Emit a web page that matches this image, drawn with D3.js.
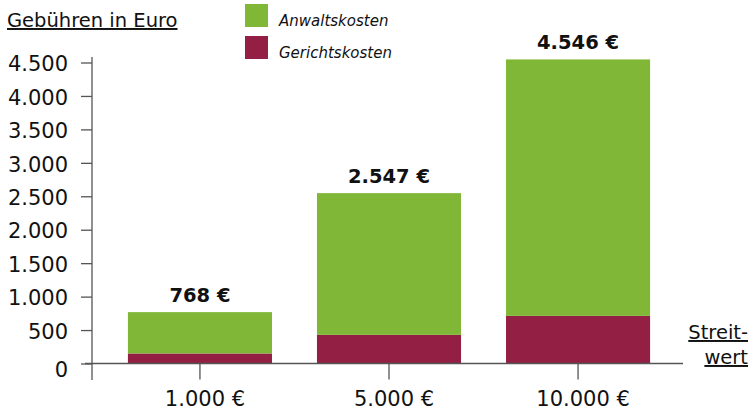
<!DOCTYPE html>
<html>
  <head>
    <meta charset="utf-8">
    <title>Gebühren in Euro</title>
    <script src="https://d3js.org/d3.v7.min.js"></script>
    <style>
      body { margin: 0; background: #fff; }
      svg text { font-family: "DejaVu Sans", sans-serif; fill: #111; }
      .axis path { display: none; }
      .axis line { stroke: #555; stroke-width: 1.3; }
    </style>
  </head>

  <body>
    <svg width="751" height="410"></svg>

    <script type="text/javascript">
      var categories = ["1.000 €", "5.000 €", "10.000 €"];
      var gerichtskosten = [150, 428, 712];
      var anwaltskosten = [618, 2119, 3834];
      var totals = [768, 2547, 4546];
      var totalLabels = ["768 €", "2.547 €", "4.546 €"];
      var yTicks = [0, 500, 1000, 1500, 2000, 2500, 3000, 3500, 4000, 4500];
      var seriesNames = ["Anwaltskosten", "Gerichtskosten"];
      var colors = ["#80b736", "#931f45"];

      var svg = d3.select("svg");
      var germanFormat = d3.formatLocale({ decimal: ",", thousands: ".", grouping: [3], currency: ["", " €"] }).format(",");

      var x = d3.scaleBand()
        .domain(categories)
        .range([92, 686])
        .paddingInner(0.238)
        .paddingOuter(0.19);

      var y = d3.scaleLinear().domain([0, 4500]).range([363.5, 62.5]);

      // stacked data: gericht at the bottom, anwalt on top
      var rows = categories.map(function (c, i) {
        return { cat: c, Gerichtskosten: gerichtskosten[i], Anwaltskosten: anwaltskosten[i] };
      });
      var stack = d3.stack().keys(["Gerichtskosten", "Anwaltskosten"]);
      var layers = stack(rows);

      svg.append("g")
        .selectAll("g")
        .data(layers)
        .enter()
        .append("g")
        .style("fill", function (d) { return d.key === "Anwaltskosten" ? colors[0] : colors[1]; })
        .selectAll("rect")
        .data(function (d) { return d; })
        .enter()
        .append("rect")
        .attr("x", function (d) { return x(d.data.cat); })
        .attr("y", function (d) { return y(d[1]); })
        .attr("width", x.bandwidth())
        .attr("height", function (d) { return y(d[0]) - y(d[1]); });

      // total labels
      svg.append("g")
        .selectAll("text")
        .data(totals)
        .enter()
        .append("text")
        .attr("x", function (d, i) { return x(categories[i]) + x.bandwidth() / 2; })
        .attr("y", function (d) { return y(d) - 10; })
        .attr("text-anchor", "middle")
        .style("font-size", "19.5px")
        .style("font-weight", "bold")
        .text(function (d, i) { return totalLabels[i]; });

      // y axis
      var yAxis = d3.axisLeft(y)
        .tickValues(yTicks)
        .tickSize(11)
        .tickPadding(13)
        .tickFormat(germanFormat);
      var gy = svg.append("g")
        .classed("axis", true)
        .attr("transform", "translate(92, 0)")
        .call(yAxis);
      gy.selectAll("text")
        .style("font-size", "21px")
        .style("fill", "#111")
        .attr("y", function (d) { return d === 0 ? 6 : 1.5; });
      svg.append("line")
        .attr("x1", 92).attr("x2", 92)
        .attr("y1", 57).attr("y2", 380)
        .style("stroke", "#555").style("stroke-width", 1.3);

      // x axis
      var xAxis = d3.axisBottom(x).tickSize(16).tickPadding(12);
      var gx = svg.append("g")
        .classed("axis", true)
        .attr("transform", "translate(0, " + y(0) + ")")
        .call(xAxis);
      gx.selectAll("text").style("font-size", "21px").style("fill", "#111").attr("dx", 5);
      svg.append("line")
        .attr("x1", 85).attr("x2", 683)
        .attr("y1", y(0)).attr("y2", y(0))
        .style("stroke", "#555").style("stroke-width", 1.3);

      // titles
      svg.append("text")
        .attr("x", 7).attr("y", 27)
        .style("font-size", "19.5px")
        .style("text-decoration", "underline")
        .text("Gebühren in Euro");

      svg.append("text")
        .attr("x", 748).attr("y", 339)
        .attr("text-anchor", "end")
        .style("font-size", "19.5px")
        .style("text-decoration", "underline")
        .text("Streit-");
      svg.append("text")
        .attr("x", 748).attr("y", 364)
        .attr("text-anchor", "end")
        .style("font-size", "19.5px")
        .style("text-decoration", "underline")
        .text("wert");

      // legend
      var legend = svg.append("g")
        .selectAll("g")
        .data(seriesNames)
        .enter()
        .append("g")
        .attr("transform", function (d, i) { return "translate(245, " + (4 + i * 32) + ")"; });
      legend.append("rect")
        .attr("width", 23)
        .attr("height", 23)
        .style("fill", function (d, i) { return colors[i]; });
      legend.append("text")
        .attr("x", 34)
        .attr("y", 22)
        .style("font-size", "15px")
        .style("font-style", "italic")
        .text(function (d) { return d; });
    </script>
  </body>
</html>
